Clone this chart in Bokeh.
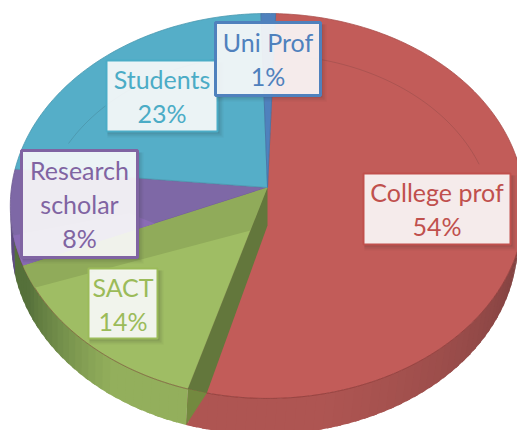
import math
from bokeh.plotting import figure
from bokeh.embed import file_html
from bokeh.resources import INLINE
from bokeh.core.properties import value

categories = ["College prof", "SACT", "Research scholar", "Students", "Uni Prof"]
shares = [54, 14, 8, 23, 1]
face_colors = ["#C25C59", "#9FBD64", "#7E68A6", "#55AEC8", "#4F81BD"]
text_colors = ["#C0504D", "#9BBB59", "#8064A2", "#4BACC6", "#4F81BD"]
label_lines = [["College prof", "54%"], ["SACT", "14%"], ["Research", "scholar", "8%"], ["Students", "23%"], ["Uni Prof", "1%"]]
label_boxes = [(363, 510, 173, 244), (88, 157, 268, 338), (21, 137, 150, 257), (106, 217, 60, 131), (215, 320, 22, 95)]
border_widths = [2, 2, 3, 2, 3]

AX, AY, A, B, K, ROT, DEPTH = 267, 187, 256, 190.7, 0.096, 2.0, 36


def project(theta, r=1.0, cx=AX, cy=AY):
    t = math.radians(theta + ROT)
    X, Y = r * math.sin(t), r * math.cos(t)
    w = 1 + K * Y
    return cx + A * X / w, cy - B * Y / w


def lower(theta):
    x, y = project(theta)
    return AX - 3 + 0.985 * (x - AX), y + DEPTH


def mix(c1, c2, f):
    a = [int(c1[i:i + 2], 16) for i in (1, 3, 5)]
    b = [int(c2[i:i + 2], 16) for i in (1, 3, 5)]
    return "#%02x%02x%02x" % tuple(round(u + (v - u) * f) for u, v in zip(a, b))


def arc(t0, t1, r=1.0, step=1.0):
    n = max(2, int(abs(t1 - t0) / step))
    return [project(t0 + (t1 - t0) * i / n, r) for i in range(n + 1)]


p = figure(width=517, height=430, x_range=(0, 517), y_range=(430, 0), toolbar_location=None,
           output_backend="svg", min_border=0, outline_line_color=None, border_fill_color="white",
           background_fill_color="white")
p.xaxis.visible = False
p.yaxis.visible = False
p.grid.visible = False

cum = [0]
for s in shares:
    cum.append(cum[-1] + s * 3.6)
red_end, green_end, purple_end = cum[1], cum[2], cum[3]


def wall_color(t):
    if t < red_end:
        f = max(0.0, min(1.0, (168 - t) / 90))
        return mix("#AE5552", "#6A3838", f ** 1.2)
    if t < green_end:
        f = max(0.0, min(1.0, (t - 212) / 30))
        return mix("#93AF5C", "#55703A", f)
    return "#55703A" if t < 252 else "#5E4C80"


# side wall, painted far-to-near so that each band overlaps the previous one
wx, wy, wc = [], [], []
edges = [78 + 2 * i for i in range(int((red_end - 78) / 2) + 1)] + [red_end]
edges += [red_end + 2 * i for i in range(1, int((262 - red_end) / 2) + 1)]
for a, b in zip(edges[:-1], edges[1:]):
    b2 = b + 1 if a < red_end - 3 or a >= red_end else b
    x0, y0 = project(a)
    x1, y1 = project(b2)
    x2, y2 = lower(b2)
    x3, y3 = lower(a)
    wx.append([x0, x1, x2, x3])
    wy.append([y0, y1, y2, y3])
    wc.append(wall_color((a + b) / 2))
p.patches(wx, wy, fill_color=wc, line_color=None)

# top faces
for i, c in enumerate(face_colors):
    pts = [(AX, AY)] + arc(cum[i], cum[i + 1])
    p.patch([q[0] for q in pts], [q[1] for q in pts], fill_color=c, line_color=mix(c, "#000000", 0.12), line_width=0.8)

# lower rim line
pts = arc(90, 250)
p.line([q[0] for q in pts], [q[1] for q in pts], line_color="#7A2F2D", line_alpha=0.45, line_width=1)

# darker upper part of the green slice
g_pts = [(AX, AY), project(red_end, 0.23)] + arc(238, green_end)
p.patch([q[0] for q in g_pts], [q[1] for q in g_pts], fill_color="#90AB5A", line_color=None)
# lighter purple sliver
s_pts = [project(green_end, 0.47)] + arc(green_end, green_end + 9) + [project(green_end + 9, 0.55)]
p.patch([q[0] for q in s_pts], [q[1] for q in s_pts], fill_color="#8A6CB5", line_color=None)

# cut face of the green slice beside the red one
e_rim = project(red_end)
e_in = project(red_end - 4)
e_low = lower(red_end)
p.patch([AX, e_rim[0], e_in[0], AX], [AY, e_rim[1], e_in[1], AY + 38], fill_color="#63773C", line_color=None)
p.patch([e_rim[0], e_low[0], e_in[0]], [e_rim[1], e_low[1], e_in[1]], fill_color="#73893F", line_color=None)

# faint inner ring
for t0, t1 in [(8, 72), (292, 345)]:
    ring = [project(t0 + (t1 - t0) * i / 40, 0.88, cy=AY + 22) for i in range(41)]
    p.line([q[0] for q in ring], [q[1] for q in ring], line_color="#222222", line_alpha=0.18, line_width=0.8)

# labels
for i in [0, 1, 3, 4, 2]:
    l, r, t_, b_ = label_boxes[i]
    for off, al in [(6, 0.05), (4, 0.08), (2, 0.10)]:
        p.quad(left=l + 1, right=r + off, top=t_ + 2, bottom=b_ + off, fill_color="#222222", fill_alpha=al, line_color=None)
    p.quad(left=l, right=r, top=t_, bottom=b_, fill_color="white", fill_alpha=0.89,
           line_color=text_colors[i], line_width=border_widths[i])
    lines = label_lines[i]
    step = 34
    cy = (t_ + b_) / 2
    ys = [cy + (j - (len(lines) - 1) / 2) * step for j in range(len(lines))]
    p.text(x=[(l + r) / 2] * len(lines), y=ys, text=lines, text_color=text_colors[i],
           text_font=value("Lato"), text_font_size="25px", text_align="center", text_baseline="middle")

open("out.html", "w").write(file_html(p, INLINE))
